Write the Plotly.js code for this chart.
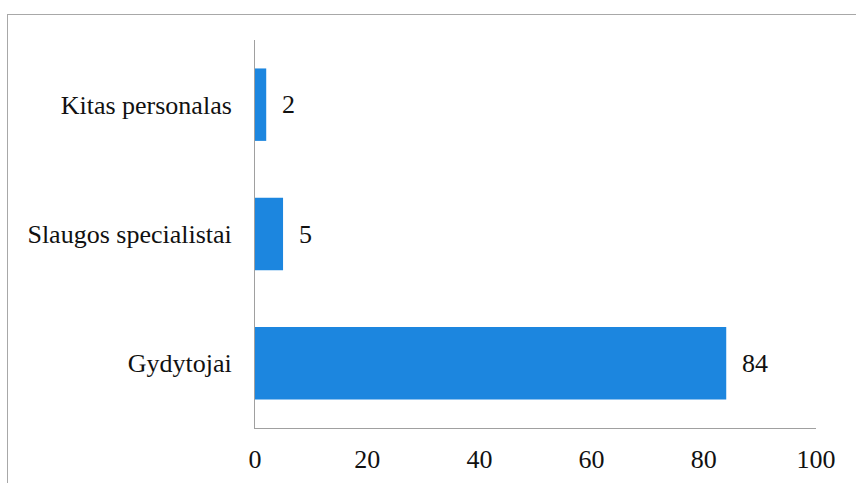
<!DOCTYPE html>
<html>
<head>
<meta charset="utf-8">
<script src="https://cdn.plot.ly/plotly-3.0.1.min.js"></script>
<style>
  html, body { margin: 0; padding: 0; background: #fff; }
  #wrap { position: relative; width: 856px; height: 483px; overflow: hidden; }
  #frame { position: absolute; left: 7px; top: 14px; width: 900px; height: 520px; border: 1px solid #a8a8a8; box-sizing: border-box; pointer-events: none; }
  #chart { position: absolute; left: 0; top: 0; width: 856px; height: 483px; }
</style>
</head>
<body>
<div id="wrap">
  <div id="chart"></div>
  <div id="frame"></div>
</div>
<script>
const categories = ["Gydytojai", "Slaugos specialistai", "Kitas personalas"];
const values = [84, 5, 2];
const xTicks = [0, 20, 40, 60, 80, 100];

const font = { family: "'Liberation Serif', 'Times New Roman', serif", size: 26, color: "#111111" };

const trace = {
  type: "bar",
  orientation: "h",
  y: categories,
  x: values,
  marker: { color: "#1c86df" },
  hoverinfo: "none"
};

const annotations = categories.map((c, i) => ({
  x: values[i], y: c, xref: "x", yref: "y",
  text: String(values[i]), showarrow: false,
  xanchor: "left", yanchor: "middle", xshift: 14,
  font: font
}));

const layout = {
  width: 856, height: 483,
  margin: { l: 255, r: 40, t: 40, b: 55 },
  paper_bgcolor: "rgba(0,0,0,0)",
  plot_bgcolor: "#fff",
  font: font,
  bargap: 0.44,
  showlegend: false,
  xaxis: {
    range: [0, 100], tickvals: xTicks, ticktext: xTicks.map(String),
    showgrid: false, zeroline: false,
    showline: true, linecolor: "#a0a0a0", linewidth: 1,
    ticks: "", ticklabelstandoff: 8,
    tickfont: font, fixedrange: true
  },
  yaxis: {
    type: "category", categoryorder: "array", categoryarray: categories,
    range: [-0.5, 2.5],
    showgrid: false, zeroline: false,
    showline: true, linecolor: "#a0a0a0", linewidth: 1,
    ticks: "", ticklabelstandoff: 17,
    tickfont: font, fixedrange: true
  },
  annotations: annotations
};

Plotly.newPlot("chart", [trace], layout, { displayModeBar: false, staticPlot: true });
</script>
</body>
</html>
